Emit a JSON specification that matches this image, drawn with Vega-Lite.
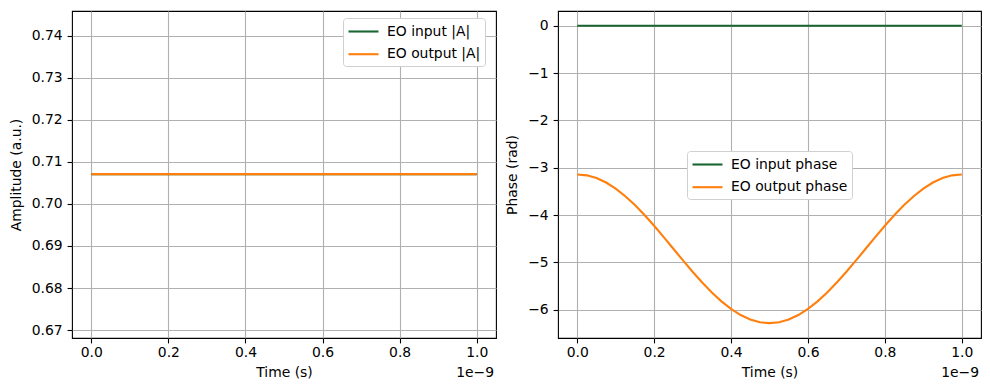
{
  "$schema": "https://vega.github.io/schema/vega-lite/v6.json",
  "autosize": {"type": "pad"},
  "padding": {"left": 8, "top": 10, "right": 5, "bottom": 0},
  "background": "white",
  "config": {
    "font": "DejaVu Sans",
    "view": {"stroke": "black", "strokeWidth": 1.1},
    "axis": {
      "domain": false,
      "grid": true,
      "gridColor": "#b0b0b0",
      "gridWidth": 1.1,
      "tickColor": "black",
      "tickSize": 4.9,
      "tickWidth": 1.1,
      "labelPadding": 4.9,
      "labelFontSize": 13.9,
      "labelColor": "black",
      "labelFlush": false,
      "titleFontSize": 13.9,
      "titleFontWeight": "normal",
      "titleColor": "black"
    },
    "axisX": {"titlePadding": 6, "labelPadding": 3},
    "axisY": {"titlePadding": 8},
    "legend": {
      "title": null,
      "orient": "none",
      "fillColor": "white",
      "strokeColor": "#d0d0d0",
      "cornerRadius": 3,
      "padding": 4,
      "labelFontSize": 13.9,
      "labelColor": "black",
      "labelOffset": 14,
      "rowPadding": 5.7,
      "symbolType": "M-1.875,0H1.875",
      "symbolSize": 256,
      "symbolOffset": 7,
      "symbolStrokeWidth": 2.1
    }
  },
  "datasets": {
    "d": [
      {"t": 0.000, "EO input |A|": 0.70711, "EO output |A|": 0.70711, "EO input phase": 0, "EO output phase": -3.14159},
      {"t": 0.025, "EO input |A|": 0.70711, "EO output |A|": 0.70711, "EO input phase": 0, "EO output phase": -3.16093},
      {"t": 0.050, "EO input |A|": 0.70711, "EO output |A|": 0.70711, "EO input phase": 0, "EO output phase": -3.21847},
      {"t": 0.075, "EO input |A|": 0.70711, "EO output |A|": 0.70711, "EO input phase": 0, "EO output phase": -3.31280},
      {"t": 0.100, "EO input |A|": 0.70711, "EO output |A|": 0.70711, "EO input phase": 0, "EO output phase": -3.44159},
      {"t": 0.125, "EO input |A|": 0.70711, "EO output |A|": 0.70711, "EO input phase": 0, "EO output phase": -3.60167},
      {"t": 0.150, "EO input |A|": 0.70711, "EO output |A|": 0.70711, "EO input phase": 0, "EO output phase": -3.78910},
      {"t": 0.175, "EO input |A|": 0.70711, "EO output |A|": 0.70711, "EO input phase": 0, "EO output phase": -3.99926},
      {"t": 0.200, "EO input |A|": 0.70711, "EO output |A|": 0.70711, "EO input phase": 0, "EO output phase": -4.22699},
      {"t": 0.225, "EO input |A|": 0.70711, "EO output |A|": 0.70711, "EO input phase": 0, "EO output phase": -4.46666},
      {"t": 0.250, "EO input |A|": 0.70711, "EO output |A|": 0.70711, "EO input phase": 0, "EO output phase": -4.71239},
      {"t": 0.275, "EO input |A|": 0.70711, "EO output |A|": 0.70711, "EO input phase": 0, "EO output phase": -4.95812},
      {"t": 0.300, "EO input |A|": 0.70711, "EO output |A|": 0.70711, "EO input phase": 0, "EO output phase": -5.19779},
      {"t": 0.325, "EO input |A|": 0.70711, "EO output |A|": 0.70711, "EO input phase": 0, "EO output phase": -5.42552},
      {"t": 0.350, "EO input |A|": 0.70711, "EO output |A|": 0.70711, "EO input phase": 0, "EO output phase": -5.63568},
      {"t": 0.375, "EO input |A|": 0.70711, "EO output |A|": 0.70711, "EO input phase": 0, "EO output phase": -5.82311},
      {"t": 0.400, "EO input |A|": 0.70711, "EO output |A|": 0.70711, "EO input phase": 0, "EO output phase": -5.98319},
      {"t": 0.425, "EO input |A|": 0.70711, "EO output |A|": 0.70711, "EO input phase": 0, "EO output phase": -6.11198},
      {"t": 0.450, "EO input |A|": 0.70711, "EO output |A|": 0.70711, "EO input phase": 0, "EO output phase": -6.20631},
      {"t": 0.475, "EO input |A|": 0.70711, "EO output |A|": 0.70711, "EO input phase": 0, "EO output phase": -6.26385},
      {"t": 0.500, "EO input |A|": 0.70711, "EO output |A|": 0.70711, "EO input phase": 0, "EO output phase": -6.28319},
      {"t": 0.525, "EO input |A|": 0.70711, "EO output |A|": 0.70711, "EO input phase": 0, "EO output phase": -6.26385},
      {"t": 0.550, "EO input |A|": 0.70711, "EO output |A|": 0.70711, "EO input phase": 0, "EO output phase": -6.20631},
      {"t": 0.575, "EO input |A|": 0.70711, "EO output |A|": 0.70711, "EO input phase": 0, "EO output phase": -6.11198},
      {"t": 0.600, "EO input |A|": 0.70711, "EO output |A|": 0.70711, "EO input phase": 0, "EO output phase": -5.98319},
      {"t": 0.625, "EO input |A|": 0.70711, "EO output |A|": 0.70711, "EO input phase": 0, "EO output phase": -5.82311},
      {"t": 0.650, "EO input |A|": 0.70711, "EO output |A|": 0.70711, "EO input phase": 0, "EO output phase": -5.63568},
      {"t": 0.675, "EO input |A|": 0.70711, "EO output |A|": 0.70711, "EO input phase": 0, "EO output phase": -5.42552},
      {"t": 0.700, "EO input |A|": 0.70711, "EO output |A|": 0.70711, "EO input phase": 0, "EO output phase": -5.19779},
      {"t": 0.725, "EO input |A|": 0.70711, "EO output |A|": 0.70711, "EO input phase": 0, "EO output phase": -4.95812},
      {"t": 0.750, "EO input |A|": 0.70711, "EO output |A|": 0.70711, "EO input phase": 0, "EO output phase": -4.71239},
      {"t": 0.775, "EO input |A|": 0.70711, "EO output |A|": 0.70711, "EO input phase": 0, "EO output phase": -4.46666},
      {"t": 0.800, "EO input |A|": 0.70711, "EO output |A|": 0.70711, "EO input phase": 0, "EO output phase": -4.22699},
      {"t": 0.825, "EO input |A|": 0.70711, "EO output |A|": 0.70711, "EO input phase": 0, "EO output phase": -3.99926},
      {"t": 0.850, "EO input |A|": 0.70711, "EO output |A|": 0.70711, "EO input phase": 0, "EO output phase": -3.78910},
      {"t": 0.875, "EO input |A|": 0.70711, "EO output |A|": 0.70711, "EO input phase": 0, "EO output phase": -3.60167},
      {"t": 0.900, "EO input |A|": 0.70711, "EO output |A|": 0.70711, "EO input phase": 0, "EO output phase": -3.44159},
      {"t": 0.925, "EO input |A|": 0.70711, "EO output |A|": 0.70711, "EO input phase": 0, "EO output phase": -3.31280},
      {"t": 0.950, "EO input |A|": 0.70711, "EO output |A|": 0.70711, "EO input phase": 0, "EO output phase": -3.21847},
      {"t": 0.975, "EO input |A|": 0.70711, "EO output |A|": 0.70711, "EO input phase": 0, "EO output phase": -3.16093},
      {"t": 1.000, "EO input |A|": 0.70711, "EO output |A|": 0.70711, "EO input phase": 0, "EO output phase": -3.14159}
    ]
  },
  "spacing": 8,
  "hconcat": [
    {
      "width": 424,
      "height": 327,
      "layer": [
        {
          "data": {"name": "d"},
          "transform": [{"fold": ["EO input |A|", "EO output |A|"], "as": ["series", "value"]}],
          "mark": {"type": "line", "strokeWidth": 2.1},
          "encoding": {
            "x": {"field": "t", "type": "quantitative",
                  "scale": {"domain": [-0.05, 1.05], "nice": false, "zero": false},
                  "axis": {"values": [0, 0.2, 0.4, 0.6, 0.8, 1.0], "format": ".1f", "title": "Time (s)"}},
            "y": {"field": "value", "type": "quantitative",
                  "scale": {"domain": [0.66810, 0.74594], "nice": false, "zero": false},
                  "axis": {"values": [0.67, 0.68, 0.69, 0.70, 0.71, 0.72, 0.73, 0.74], "format": ".2f", "title": "Amplitude (a.u.)"}},
            "color": {"field": "series", "type": "nominal",
                      "scale": {"domain": ["EO input |A|", "EO output |A|"], "range": ["#1a6632", "#ff7f0e"]},
                      "legend": {"legendX": 271, "legendY": 7}}
          }
        },
        {
          "data": {"values": [{"label": "1e−9"}]},
          "mark": {"type": "text", "align": "right", "baseline": "middle", "dy": 35, "dx": -2, "fontSize": 13.9, "color": "black", "clip": false},
          "encoding": {
            "x": {"datum": 1.05, "type": "quantitative"},
            "y": {"datum": 0.66810, "type": "quantitative"},
            "text": {"field": "label"}
          }
        }
      ]
    },
    {
      "width": 423,
      "height": 327,
      "layer": [
        {
          "data": {"name": "d"},
          "transform": [{"fold": ["EO input phase", "EO output phase"], "as": ["series", "value"]}],
          "mark": {"type": "line", "strokeWidth": 2.1},
          "encoding": {
            "x": {"field": "t", "type": "quantitative",
                  "scale": {"domain": [-0.05, 1.05], "nice": false, "zero": false},
                  "axis": {"values": [0, 0.2, 0.4, 0.6, 0.8, 1.0], "format": ".1f", "title": "Time (s)"}},
            "y": {"field": "value", "type": "quantitative",
                  "scale": {"domain": [-6.597, 0.3105], "nice": false, "zero": false},
                  "axis": {"values": [-6, -5, -4, -3, -2, -1, 0], "format": "d", "title": "Phase (rad)"}},
            "color": {"field": "series", "type": "nominal",
                      "scale": {"domain": ["EO input phase", "EO output phase"], "range": ["#1a6632", "#ff7f0e"]},
                      "legend": {"legendX": 129, "legendY": 140}}
          }
        },
        {
          "data": {"values": [{"label": "1e−9"}]},
          "mark": {"type": "text", "align": "right", "baseline": "middle", "dy": 35, "dx": -2, "fontSize": 13.9, "color": "black", "clip": false},
          "encoding": {
            "x": {"datum": 1.05, "type": "quantitative"},
            "y": {"datum": -6.597, "type": "quantitative"},
            "text": {"field": "label"}
          }
        }
      ],
      "resolve": {"scale": {"color": "independent"}}
    }
  ],
  "resolve": {"scale": {"color": "independent"}}
}
